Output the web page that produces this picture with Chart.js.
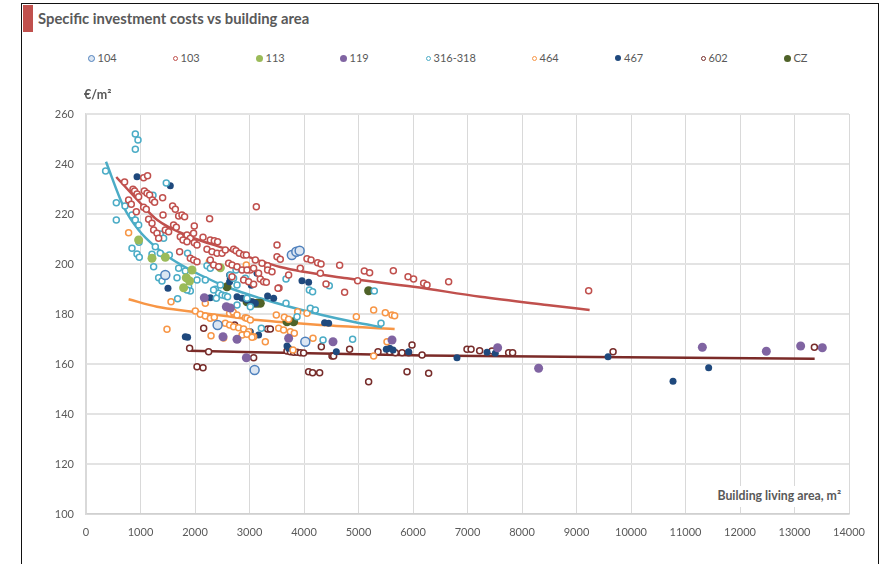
<!DOCTYPE html>
<html>
<head>
<meta charset="utf-8">
<script src="https://cdn.jsdelivr.net/npm/chart.js@4/dist/chart.umd.min.js"></script>
<style>
  html, body { margin: 0; padding: 0; background: #fff; }
  body { width: 885px; height: 564px; position: relative; overflow: hidden;
         font-family: Lato, "Open Sans", sans-serif; color: #595959; }
  #frame { position: absolute; left: 21px; top: 3px; width: 858px; height: 620px;
           border: 1.5px solid #111; box-sizing: border-box; }
  #tab { position: absolute; left: 23px; top: 5px; width: 10px; height: 27px; background: #c0504d; }
  #title { position: absolute; left: 38px; top: 9px; font-weight: bold; font-size: 14.8px; color: #595959; white-space: nowrap; }
  .leg { position: absolute; top: 51px; font-size: 11px; line-height: 14px; white-space: nowrap; }
  .leg i { display: inline-block; box-sizing: border-box; border-radius: 50%; vertical-align: middle; margin-right: 3px; margin-top: -2px; }
  #ytitle { position: absolute; left: 84px; top: 87px; font-weight: bold; font-size: 12.5px; }
  #xtitle { position: absolute; right: 40px; top: 486px; font-weight: bold; font-size: 12.3px;
            background: #fff; padding: 2px 4px 4px 4px; white-space: nowrap; }
  #c { position: absolute; left: 0; top: 0; }
</style>
</head>
<body>
<div id="frame"></div>
<div id="tab"></div>
<div id="title">Specific investment costs vs building area</div>
<div id="legend"></div>
<canvas id="c" width="885" height="564"></canvas>
<div id="ytitle">€/m²</div>
<div id="xtitle">Building living area, m²</div>
<script>
// Building living area (m²) vs specific investment cost (€/m²), one list per project group
const s104 = [[3777,203.6],[3859,204.9],[3920,205.3],[1455,195.6],[2415,175.6],[3094,157.6],[4024,168.9]];

const s103 = [[1057,234.5],[1130,235.3],[708,232.8],[862,229.9],[892,229.2],[936,228],[966,226.9],[782,225.6],[831,223.9],
  [1070,229.2],[1119,228.3],[1167,227.6],[1217,225.6],[1259,224.7],[1406,226.5],[923,220.9],[1057,222.7],[1106,221.9],
  [1589,223.2],[1639,221.9],[1413,219.6],[1149,217.9],[1211,216.3],[1700,219.2],[1761,219.6],[1809,218.9],[1241,213.6],
  [1303,212.3],[1607,215.6],[1657,214.7],[1987,215.2],[1333,210.3],[1455,213.6],[1516,212.9],[1853,211.6],[1914,210.3],
  [1974,212.3],[1730,210.9],[1780,209.6],[1853,208.9],[2147,210.7],[2268,218.1],[2281,209.6],[2354,209.3],[2415,208.9],
  [1718,204.9],[1987,208.5],[2037,207.6],[2220,205.9],[2312,204.9],[2404,204.3],[2496,204.3],[2556,205.6],[2709,205.9],
  [2752,205.3],[2813,204.3],[2892,203.6],[2942,203.6],[3125,222.9],[3505,207.6],[4055,202.1],[4129,201.6],[4250,200.5],
  [4312,200],[4654,199.5],[5107,197.2],[5204,196.5],[3505,202.9],[3565,201.9],[3230,200.3],[3332,199.3],[3107,201.6],
  [2617,200.3],[2679,199.6],[2771,198.9],[3015,197.6],[3076,198.3],[3332,197.6],[3413,196.9],[3718,195.6],[3932,198.3],
  [4300,196.3],[3198,194],[3259,192.9],[3309,192.7],[3541,190.4],[4404,192],[4745,188.7],[4984,193.3],[5639,197.3],
  [5909,194.9],[6011,194],[6195,192.3],[6257,191.6],[6654,192.9],[9223,189.3],[1914,202.3],[1974,201.6],[2037,200.9],
  [2281,201.6],[2342,199.6],[2433,198.9],[2863,197.6],[2954,197.6],[2892,193.6],[2984,192.9],[3076,191.9],[2679,194.9],
  [3167,196.3],[3523,190.3]];

const s113 = [[966,209.6],[1455,202.7],[1211,202.3],[1840,194.5],[1901,193.2],[1791,190.5],[1945,197.6],[2465,198.5]];

const s119 = [[2171,186.5],[2575,182.9],[2650,182.4],[2514,170.9],[2771,169.9],[2942,162.5],[3718,170.3],[4532,168.9],
  [5615,169.6],[7553,166.5],[8305,158.3],[11309,166.7],[12483,165.1],[13113,167.2],[13511,166.5]];

const s316 = [[905,252],[954,249.6],[905,245.9],[360,237.2],[1473,232.4],[1229,227.5],[556,224.5],[716,223.2],[556,217.6],
  [844,219.6],[905,217.6],[966,215.6],[1363,212],[1424,210.3],[844,206.3],[973,208.7],[936,204],[1211,203.9],[1529,203.6],
  [1864,204.3],[1272,206.9],[978,202.7],[1363,204.3],[1241,198.9],[1333,194.5],[1394,193.2],[1670,194.5],[1681,186.1],
  [1700,198.3],[1822,197.2],[1883,190.9],[1914,189.2],[2037,193.6],[2189,193.6],[2220,199.3],[2281,198.3],[2373,189.9],
  [2433,188.3],[2496,187.6],[2556,187.3],[2598,186.9],[2648,195.6],[2708,194.3],[2752,197.6],[2923,194.3],[2771,183.6],
  [2954,186.3],[2391,186.3],[3670,194],[4098,189.6],[4158,188.9],[4464,191.3],[5290,189.2],[3670,184.3],[4116,182.3],
  [4208,181.6],[3872,178.9],[3217,174.3],[4349,169.6],[4892,169.9],[5413,176.3],[1853,189.6],[2341,189.6],[2465,191.6],
  [2771,191.6],[3015,182.9]];

const s464 = [[782,212.5],[2263,200.9],[2942,199.6],[1560,184.9],[1486,173.9],[2006,181.2],[2097,179.9],[2189,179.2],
  [2281,178.3],[2354,178.7],[2189,184.3],[2635,180.3],[2700,180.8],[2771,179.6],[2923,178.5],[2556,176.3],[2635,175.6],
  [2709,174.9],[2800,174.5],[2892,174],[2984,172.9],[3076,170.9],[2294,171.3],[2525,170.4],[2863,171.6],[2954,171.9],
  [3046,170.7],[2954,178.3],[3015,177.6],[3492,179.6],[3639,178.7],[3718,177.9],[3535,174.3],[3626,173.6],[3749,172.9],
  [3822,172.3],[3290,168.9],[3884,180.9],[4055,180.3],[4165,170.3],[3798,165.6],[4960,178.9],[5278,181.6],[5278,163.2],
  [5492,180.5],[5615,179.6],[5663,179.3],[5523,168.9]];

const s467 = [[936,234.9],[1547,231.3],[1504,190.3],[1822,170.9],[1864,170.7],[2281,186.5],[2635,195.6],[2648,194.3],
  [2635,192.9],[2771,186.9],[2863,186.3],[2954,185.6],[3046,184.9],[3107,184.3],[3033,191.5],[3138,196.3],[3015,172.9],
  [3167,171.6],[3332,187.2],[3443,186.3],[3963,193.3],[4085,192.7],[3688,167.2],[3718,166.3],[4378,176.5],[4452,176.3],
  [4593,164.9],[5510,165.9],[5572,166.3],[5634,165.6],[5920,164.9],[6807,162.5],[7358,164.7],[7510,164.3],[9579,162.9],
  [10771,153.1],[11425,158.5]];

const s602 = [[1901,166.3],[2250,164.9],[2159,174.3],[2037,158.9],[2147,158.5],[2727,175.6],[3076,162.5],[3332,174],
  [3382,174],[3688,165.2],[3749,164.9],[3810,164.7],[3872,164.7],[3932,164.5],[3993,164.4],[4318,166.9],[4837,165.9],
  [4514,163.2],[4544,163.2],[4085,156.9],[4158,156.5],[4287,156.5],[5186,152.9],[5358,164.9],[5571,164.9],[5676,164.5],
  [5799,164.5],[5920,164.5],[5982,167.6],[5890,156.9],[6166,163.6],[6287,156.3],[6991,165.9],[7065,165.9],[7223,165.3],
  [7450,165.2],[7755,164.5],[7828,164.5],[9671,164.9],[13365,166.7]];

const sCZ = [[2587,190.9],[2954,184.9],[3015,184.5],[3076,184.3],[3138,184.3],[3198,184.3],[3688,176.9],[3810,176.9],[5186,189.3]];

// Trend curves, sampled along each fitted line
const trend316 = [[367,240.9],[690,222.9],[965,213.6],[1303,206.3],[1547,202.3],[2097,195.6],[2648,190.3],[3198,186.3],
  [3718,183],[4330,179.6],[4941,176.7],[5432,174.7]];
const trend103 = [[556,234.8],[996,224.4],[1308,217.6],[1914,210.9],[2520,206.4],[3565,198.8],[4789,194.3],[6011,190.9],
  [7235,186.9],[8459,183.6],[9241,181.6]];
const trend464 = [[782,185.9],[1303,182.9],[1914,181],[2525,179.3],[3150,177.6],[4331,175.6],[5663,174]];
const trend602 = [[1901,165.3],[3108,164.7],[6200,163.4],[9900,162.7],[13370,162.1]];

const xTicks = { min: 0, max: 14000, step: 1000 };
const yTicks = { min: 100, max: 260, step: 20 };

const series = [
  { label: '104',     data: s104, border: '#4f81bd', fill: '#dce6f2', r: 4.5, bw: 1.5, lr: 3.5 },
  { label: '103',     data: s103, border: '#c0504d', fill: '#ffffff', r: 3,   bw: 1.5, lr: 2.5 },
  { label: '113',     data: s113, border: '#9bbb59', fill: '#9bbb59', r: 4.5, bw: 0,   lr: 3.5 },
  { label: '119',     data: s119, border: '#8064a2', fill: '#8064a2', r: 4.5, bw: 0,   lr: 3.5 },
  { label: '316-318', data: s316, border: '#4bacc6', fill: '#ffffff', r: 3,   bw: 1.5, lr: 2.5 },
  { label: '464',     data: s464, border: '#f79646', fill: '#ffffff', r: 3,   bw: 1.5, lr: 2.5 },
  { label: '467',     data: s467, border: '#1f497d', fill: '#1f497d', r: 3.5, bw: 0,   lr: 3   },
  { label: '602',     data: s602, border: '#772c2a', fill: '#ffffff', r: 3,   bw: 1.5, lr: 2.5 },
  { label: 'CZ',      data: sCZ,  border: '#4f6228', fill: '#4f6228', r: 4.5, bw: 0,   lr: 3.5 }
];
const legendX = [91, 175, 259, 343, 428, 534, 618, 703, 787];

const trends = [
  { data: trend316, color: '#4bacc6' },
  { data: trend103, color: '#c0504d' },
  { data: trend464, color: '#f79646' },
  { data: trend602, color: '#7b2b28' }
];

const toXY = arr => arr.map(p => ({ x: p[0], y: p[1] }));

// legend
const legendEl = document.getElementById('legend');
series.forEach((s, i) => {
  const d = document.createElement('div');
  d.className = 'leg';
  const sz = s.lr * 2;
  d.style.left = (legendX[i] - s.lr) + 'px';
  const dot = document.createElement('i');
  dot.style.width = sz + 'px';
  dot.style.height = sz + 'px';
  dot.style.background = s.fill;
  dot.style.border = s.bw ? '1.3px solid ' + s.border : 'none';
  d.appendChild(dot);
  d.appendChild(document.createTextNode(s.label));
  legendEl.appendChild(d);
});

const datasets = series.map(s => ({
  label: s.label,
  data: toXY(s.data),
  showLine: false,
  pointRadius: s.r,
  pointBorderWidth: s.bw,
  pointBorderColor: s.border,
  pointBackgroundColor: s.fill,
  pointHoverRadius: s.r
})).concat(trends.map(t => ({
  data: toXY(t.data),
  showLine: true,
  borderColor: t.color,
  borderWidth: 2.5,
  pointRadius: 0,
  cubicInterpolationMode: 'monotone',
  fill: false
})));

const tickFont = { family: 'Lato, "Open Sans", sans-serif', size: 11 };

new Chart(document.getElementById('c'), {
  type: 'scatter',
  data: { datasets },
  options: {
    responsive: false,
    animation: false,
    events: [],
    layout: { padding: { left: 0, top: 114, right: 36, bottom: 20 } },
    plugins: { legend: { display: false }, tooltip: { enabled: false } },
    scales: {
      x: {
        type: 'linear', min: xTicks.min, max: xTicks.max,
        ticks: { stepSize: xTicks.step, padding: 12, color: '#595959', font: tickFont, maxRotation: 0,
                 autoSkip: false, callback: v => String(v) },
        grid: { color: '#d9d9d9', lineWidth: 1, drawTicks: false },
        border: { color: '#d0d0d0', width: 1.5 },
        afterFit(s) { s.height = 30; }
      },
      y: {
        type: 'linear', min: yTicks.min, max: yTicks.max,
        ticks: { stepSize: yTicks.step, padding: 12, color: '#595959', font: tickFont, callback: v => String(v) },
        grid: { color: '#e3e3e3', lineWidth: 2, drawTicks: false },
        border: { color: '#d9d9d9', width: 1.5 },
        afterFit(s) { s.width = 86; }
      }
    }
  }
});
</script>
</body>
</html>
